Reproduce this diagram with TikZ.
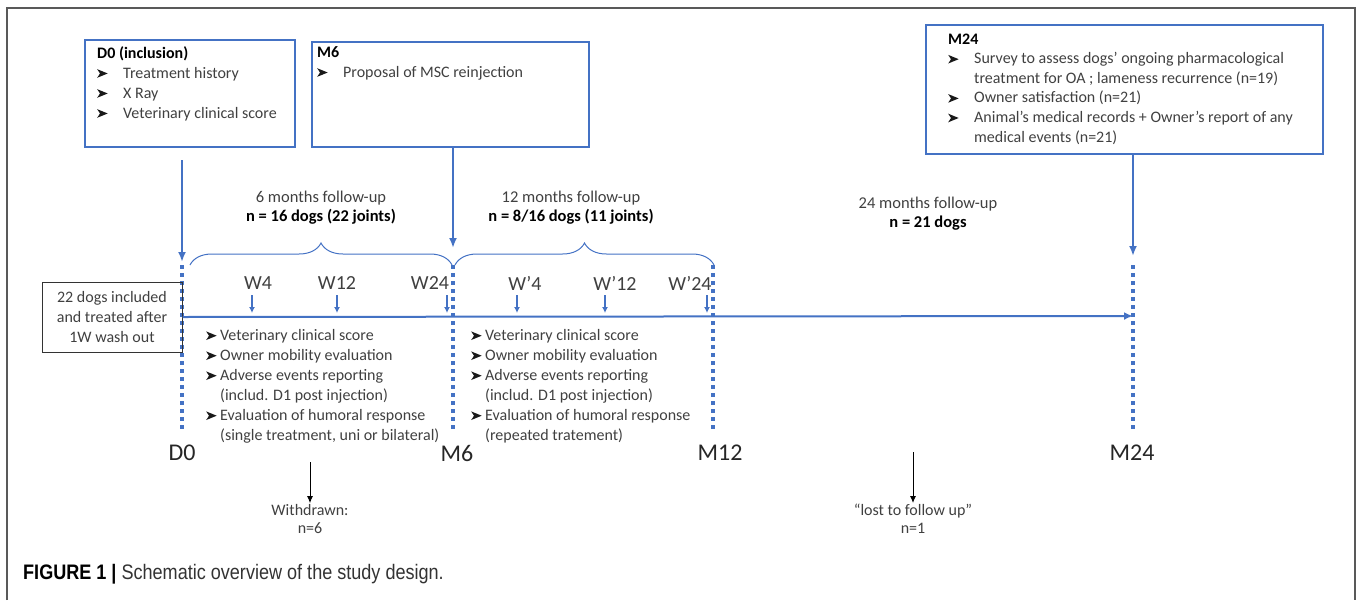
\documentclass[tikz,border=0pt]{standalone}
\usepackage{fontspec}
\setmainfont{Carlito}
\newfontfamily\capfont[FakeStretch=0.86]{Liberation Sans}
\usetikzlibrary{arrows.meta,calc,decorations.pathreplacing}
\definecolor{boxblue}{HTML}{4472C4}
\definecolor{txtgray}{HTML}{404040}
\newcommand{\arw}{\tikz[x=1pt,y=1pt,baseline=0pt]\fill[black!90] (0,0.3) -- (10.5,4.6) -- (0,8.9) -- (2.8,4.6) -- cycle;}
\newcommand{\itm}[1]{\makebox[26pt][l]{\arw}#1}
\newcommand{\sitm}[1]{\makebox[14pt][l]{\arw}#1}

\begin{document}
\begin{tikzpicture}[x=1pt,y=-1pt,
	bluebox/.style={draw=boxblue,line width=2.2pt,inner sep=0pt},
	boxtext/.style={anchor=north west,align=left,inner sep=0pt,text=txtgray,font=\fontsize{16}{20}\selectfont},
	hdr/.style={align=center,inner sep=0pt,text=txtgray,font=\fontsize{16.5}{19}\selectfont},
	wlabel/.style={inner sep=0pt,text=txtgray,font=\fontsize{20}{22}\selectfont},
	mlabel/.style={inner sep=0pt,text=black!85,font=\fontsize{24}{26}\selectfont},
	small/.style={align=center,inner sep=1pt,text=txtgray,font=\fontsize{16}{18}\selectfont},
	bluearrow/.style={draw=boxblue,line width=2pt,-{Latex[length=10pt,width=8pt]}},
	timeline/.style={draw=boxblue,line width=2pt,-{Latex[length=9pt,width=8pt]}},
	weekarrow/.style={draw=boxblue,line width=1.3pt,-{Latex[length=6pt,width=6pt]}},
	blackarrow/.style={draw=black,line width=1pt,-{Latex[length=7pt,width=6pt]}},
	dotline/.style={draw=boxblue,line width=3.5pt,dash pattern=on 3.5pt off 4.5pt},
	bracestyle/.style={draw=boxblue,line width=1pt,decorate,decoration={brace,amplitude=22pt}}]

	\useasboundingbox (0,0) rectangle (1357,600);
	\draw[black!65,line width=1.5pt] (7,600) -- (7,8) -- (1355,8) -- (1355,600);

	\coordinate (d0) at (182,316);
	\coordinate (m6) at (453,316);
	\coordinate (m12) at (713,316);
	\coordinate (m24) at (1133,316);

	\node[bluebox,minimum width=210,minimum height=107] (d0box) at (190,93.5) {};
	\node[bluebox,minimum width=277,minimum height=105] (m6box) at (450.5,94.5) {};
	\node[bluebox,minimum width=397,minimum height=129] (m24box) at (1124.5,89.5) {};

	\node[boxtext] (d0txt) at (97,46) {\textcolor{black}{\textbf{D0 (inclusion)}}\\
		\itm{Treatment history}\\
		\itm{X Ray}\\
		\itm{Veterinary clinical score}};
	\node[boxtext] (m6txt) at (317,46) {\textcolor{black}{\textbf{M6}}\\
		\itm{Proposal of MSC reinjection}};
	\node[boxtext,font=\fontsize{16}{19.6}\selectfont] (m24txt) at (948,33.5) {\textcolor{black}{\textbf{M24}}\\
		\itm{Survey to assess dogs’ ongoing pharmacological}\\
		\hspace*{26pt}treatment for OA ; lameness recurrence (n=19)\\
		\itm{Owner satisfaction (n=21)}\\
		\itm{Animal’s medical records + Owner’s report of any}\\
		\hspace*{26pt}medical events (n=21)};

	\coordinate (d0start) at (182,160);
	\draw[bluearrow] (d0start) -- ($(d0)+(0,-54)$);
	\draw[bluearrow] (m6box.south -| m6) -- ($(m6)+(0,-68)$);
	\draw[bluearrow] (m24box.south -| m24) -- ($(m24)+(0,-60)$);

	\foreach \p in {d0,m6,m12,m24}
		\draw[dotline] ($(\p)+(0,-51)$) -- ($(\p)+(0,117)$);

	\draw[bracestyle] (190,265) -- (452,265);
	\draw[bracestyle] (455,265) -- (714,265);

	\node[hdr] (fu6) at (321,208) {6 months follow-up\\\textcolor{black}{\textbf{n = 16 dogs (22 joints)}}};
	\node[hdr] (fu12) at (571,208) {12 months follow-up\\\textcolor{black}{\textbf{n = 8/16 dogs (11 joints)}}};
	\node[hdr] (fu24) at (928,214) {24 months follow-up\\\textcolor{black}{\textbf{n = 21 dogs}}};

	\node[draw=black!80,line width=1pt,minimum width=140,minimum height=70,align=center,
		inner sep=0pt,text=txtgray,font=\fontsize{16}{20}\selectfont] (incl) at (112,317)
		{22 dogs included\\and treated after\\1W wash out};
	\draw[timeline] (incl.east) -- (m24);

	\foreach \lx/\ax/\lab [count=\i] in {258/252/W4, 337/337/W12, 430/447/W24,
		525/517/W’4, 615/605/W’12, 690/707/W’24} {
		\node[wlabel] (w\i) at (\lx,283) {\lab};
		\coordinate (wa\i) at (\ax,295);
		\coordinate (wt\i) at (\ax,313);
		\draw[weekarrow] (wa\i) -- (wt\i);
	}

	\node[boxtext] (list6) at (206,329) {\sitm{Veterinary clinical score}\\
		\sitm{Owner mobility evaluation}\\
		\sitm{Adverse events reporting}\\
		\hspace*{14pt}(includ. D1 post injection)\\
		\sitm{Evaluation of humoral response}\\
		\hspace*{14pt}(single treatment, uni or bilateral)};
	\node[boxtext] (list12) at (471,329) {\sitm{Veterinary clinical score}\\
		\sitm{Owner mobility evaluation}\\
		\sitm{Adverse events reporting}\\
		\hspace*{14pt}(includ. D1 post injection)\\
		\sitm{Evaluation of humoral response}\\
		\hspace*{14pt}(repeated tratement)};

	\node[mlabel] (ld0) at (182,453) {D0};
	\node[mlabel] (lm6) at (457,453) {M6};
	\node[mlabel] (lm12) at (720,453) {M12};
	\node[mlabel] (lm24) at (1132,453) {M24};

	\coordinate (wdstart) at (310,462);
	\node[small] (wd) at (310,519) {Withdrawn:\\n=6};
	\draw[blackarrow] (wdstart) -- (wd.north);
	\coordinate (loststart) at (913,452);
	\node[small] (lost) at (913,519) {“lost to follow up”\\n=1};
	\draw[blackarrow] (loststart) -- (lost.north);

	\node[anchor=base west,inner sep=0pt,text=black!80,font=\capfont\fontsize{21}{24}\selectfont] (cap) at (23,579)
		{\textcolor{black}{\textbf{FIGURE 1 |}} Schematic overview of the study design.};

\end{tikzpicture}
\end{document}
